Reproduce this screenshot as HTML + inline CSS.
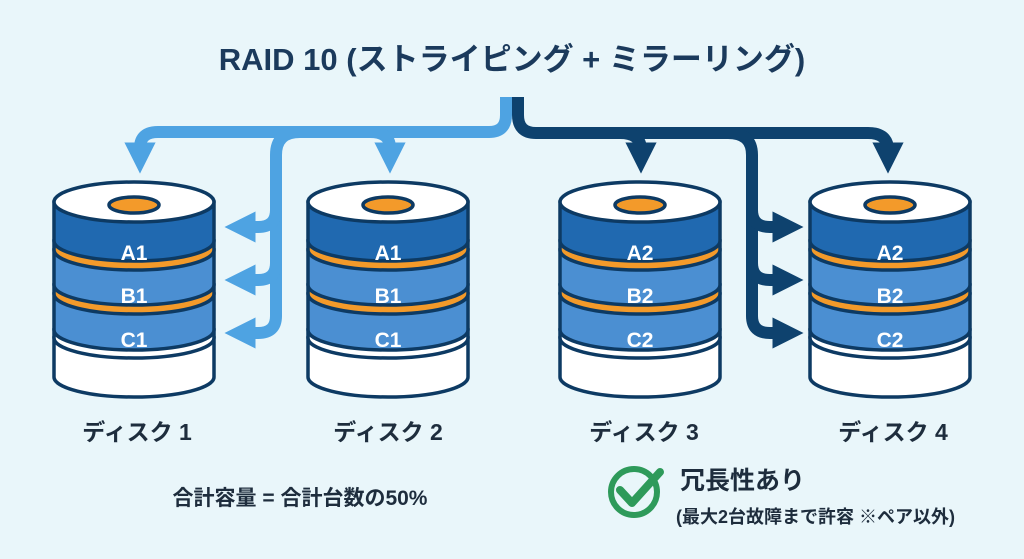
<!DOCTYPE html>
<html><head><meta charset="utf-8"><style>
html,body{margin:0;padding:0;background:#e9f6fa;}
svg{display:block}
text{font-family:"Liberation Sans","Noto Sans CJK JP",sans-serif;font-weight:bold;}
</style></head><body>
<svg width="1024" height="559" viewBox="0 0 1024 559" xmlns="http://www.w3.org/2000/svg">
<rect width="1024" height="559" fill="#e9f6fa"/>
<defs>
<marker id="hl" viewBox="0 0 10 10" refX="5" refY="5" markerWidth="2.6" markerHeight="2.6" orient="auto-start-reverse"><path d="M0,0 L10,5 L0,10 z" fill="#4ea3e2"/></marker>
<marker id="hd" viewBox="0 0 10 10" refX="5" refY="5" markerWidth="2.6" markerHeight="2.6" orient="auto-start-reverse"><path d="M0,0 L10,5 L0,10 z" fill="#0e426e"/></marker>
<g id="disk" stroke="#0d3a63" stroke-width="3.5">
 <path d="M-80,338 L-80,377 A80,20 0 0 0 80,377 L80,338 Z" fill="#ffffff"/>
 <path d="M-80,330 L-80,338 A80,20 0 0 0 80,338 L80,330 Z" fill="#ffffff"/>
 <path d="M-80,294 L-80,330 A80,20 0 0 0 80,330 L80,294 Z" fill="#4b8fd2"/>
 <path d="M-80,285 L-80,294 A80,20 0 0 0 80,294 L80,285 Z" fill="#f39a2a"/>
 <path d="M-80,250 L-80,285 A80,20 0 0 0 80,285 L80,250 Z" fill="#4b8fd2"/>
 <path d="M-80,241 L-80,250 A80,20 0 0 0 80,250 L80,241 Z" fill="#f39a2a"/>
 <path d="M-80,202 L-80,241 A80,20 0 0 0 80,241 L80,202 Z" fill="#2069b0"/>
 <ellipse cx="0" cy="202" rx="80" ry="20" fill="#ffffff"/>
 <ellipse cx="0" cy="205" rx="25" ry="8" fill="#f39a2a"/>
</g>
</defs>

<text x="512" y="70" text-anchor="middle" font-size="31" fill="#1b3a5c">RAID 10 (ストライピング + ミラーリング)</text>

<g fill="none" stroke="#4ea3e2" stroke-width="12">
 <path d="M506,97 L506,115 Q506,132 489,132 L158,132 Q140,132 140,148 L140,158" marker-end="url(#hl)"/>
 <path d="M300,132 Q276,132 276,155 L276,316 Q276,333 258,333 L240,333" marker-end="url(#hl)"/>
 <path d="M276,210 Q276,227 258,227 L240,227" marker-end="url(#hl)"/>
 <path d="M276,263 Q276,280 258,280 L240,280" marker-end="url(#hl)"/>
 <path d="M370,132 Q390,132 390,148 L390,158" marker-end="url(#hl)"/>
</g>
<g fill="none" stroke="#0e426e" stroke-width="12">
 <path d="M518,97 L518,115 Q518,133 536,133 L868,133 Q888,133 888,150 L888,158" marker-end="url(#hd)"/>
 <path d="M620,133 Q641,133 641,150 L641,158" marker-end="url(#hd)"/>
 <path d="M728,133 Q752,133 752,155 L752,316 Q752,333 770,333 L788,333" marker-end="url(#hd)"/>
 <path d="M752,210 Q752,227 770,227 L788,227" marker-end="url(#hd)"/>
 <path d="M752,263 Q752,280 770,280 L788,280" marker-end="url(#hd)"/>
</g>

<use href="#disk" x="134"/>
<use href="#disk" x="388"/>
<use href="#disk" x="640"/>
<use href="#disk" x="890"/>

<g font-size="21" fill="#ffffff" text-anchor="middle">
 <text x="134" y="260">A1</text><text x="134" y="303">B1</text><text x="134" y="347">C1</text>
 <text x="388" y="260">A1</text><text x="388" y="303">B1</text><text x="388" y="347">C1</text>
 <text x="640" y="260">A2</text><text x="640" y="303">B2</text><text x="640" y="347">C2</text>
 <text x="890" y="260">A2</text><text x="890" y="303">B2</text><text x="890" y="347">C2</text>
</g>

<g font-size="23" fill="#1e2d3d" text-anchor="middle">
 <text x="137" y="440">ディスク 1</text>
 <text x="388" y="440">ディスク 2</text>
 <text x="644" y="440">ディスク 3</text>
 <text x="893" y="440">ディスク 4</text>
</g>

<text x="300" y="505" text-anchor="middle" font-size="21" fill="#1e2d3d">合計容量 = 合計台数の50%</text>

<circle cx="634" cy="492" r="23" fill="none" stroke="#2e9a5a" stroke-width="6"/>
<path d="M620,490 L632,503 L660,472" fill="none" stroke="#2e9a5a" stroke-width="8" stroke-linecap="round" stroke-linejoin="round"/>
<text x="680" y="489" font-size="25" fill="#1e2d3d">冗長性あり</text>
<text x="676" y="523" font-size="18" fill="#1e2d3d">(最大2台故障まで許容 ※ペア以外)</text>
</svg>
</body></html>
